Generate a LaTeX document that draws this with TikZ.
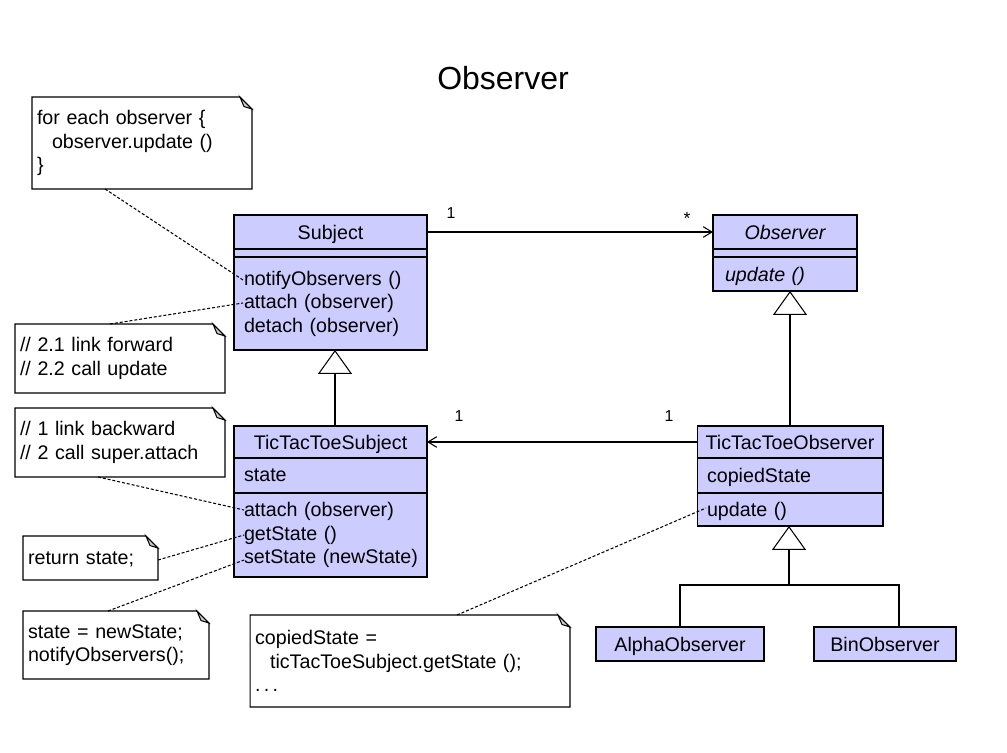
\documentclass[tikz,border=0pt]{standalone}
\usepackage{fontspec}
\setmainfont{Liberation Sans}
\usepackage{xcolor}
\usepackage{tikz}
\usetikzlibrary{positioning,arrows.meta}
\definecolor{umlfill}{HTML}{CCCCFF}
\definecolor{foldgray}{HTML}{D0D0D0}
\newcommand{\umlsize}{\fontsize{11.2}{13.4}\selectfont}
\newcommand{\notefold}[1]{%
  \draw (#1.south west) -- (#1.north west) -- ([xshift=-0.24cm]#1.north east)
    -- ([yshift=-0.24cm]#1.north east) -- (#1.south east) -- cycle;
  \draw[fill=foldgray] ([xshift=-0.24cm]#1.north east) -- ([xshift=-0.16cm,yshift=-0.19cm]#1.north east)
    -- ([yshift=-0.24cm]#1.north east) -- cycle;}

\begin{document}
\begin{tikzpicture}[
  x=0.02cm, y=-0.02cm,
  font=\umlsize, line width=0.6pt,
  cname/.style={draw, fill=umlfill, inner sep=0pt, outer sep=0pt},
  oneline/.style={text depth=0pt},
  cpart/.style={cname, align=left, inner xsep=0.2cm},
  note/.style={inner xsep=0.1cm, inner ysep=0pt, outer sep=0pt, align=left},
  assoc/.style={-{Straight Barb[length=5pt,width=6pt]}},
  gen/.style={-{Triangle[open,length=13.6pt,width=19.3pt]}},
  dline/.style={dash pattern=on 1.7pt off 1.1pt},
  mult/.style={anchor=base, font=\fontsize{9}{11}\selectfont},
]
\useasboundingbox (0,0) rectangle (1007,753);
\node[font=\fontsize{18.2}{22}\selectfont] (title) at (503,78) {Observer};
% ---------- Subject ----------
\node[cname, oneline, minimum width=3.86cm, minimum height=0.68cm] (subj) at (330.5,232) {Subject};
\node[cname, below=0pt of subj, minimum width=3.86cm, minimum height=0.16cm] (subjAttr) {};
\node[cpart, below=0pt of subjAttr, text width=3.46cm, minimum height=1.86cm] (subjMeth)
  {notifyObservers ()\\attach (observer)\\detach (observer)};
% ---------- Observer ----------
\node[cname, oneline, minimum width=2.88cm, minimum height=0.68cm, font=\umlsize\itshape] (obs) at (785,232) {Observer};
\node[cname, below=0pt of obs, minimum width=2.88cm, minimum height=0.16cm] (obsAttr) {};
\node[cpart, oneline, below=0pt of obsAttr, inner xsep=0.24cm, text width=2.40cm, minimum height=0.68cm,
  font=\umlsize\itshape] (obsMeth) {update ()};
% ---------- TicTacToeSubject ----------
\node[cname, oneline, minimum width=3.86cm, minimum height=0.64cm] (tsubj) at (330.5,442) {TicTacToeSubject};
\node[cpart, oneline, below=0pt of tsubj, text width=3.46cm, minimum height=0.7cm] (tsubjAttr) {state};
\node[cpart, below=0pt of tsubjAttr, text width=3.46cm, minimum height=1.68cm] (tsubjMeth)
  {attach (observer)\\getState ()\\\mbox{setState (newState)}};
% ---------- TicTacToeObserver ----------
\node[cname, oneline, minimum width=3.72cm, minimum height=0.64cm] (tobs) at (790,442) {TicTacToeObserver};
\node[cpart, oneline, below=0pt of tobs, text width=3.32cm, minimum height=0.7cm] (tobsAttr) {copiedState};
\node[cpart, oneline, below=0pt of tobsAttr, text width=3.32cm, minimum height=0.66cm] (tobsMeth) {update ()};
% ---------- concrete observers ----------
\node[cname, oneline, minimum width=3.36cm, minimum height=0.68cm] (alpha) at (680,644) {AlphaObserver};
\node[cname, oneline, minimum width=2.84cm, minimum height=0.68cm] (bin) at (885,644) {BinObserver};
% ---------- associations ----------
\draw[assoc] (subj.east) -- (obs.west);
\draw[assoc] (tobs.west) -- (tsubj.east);
\node[mult] (m1) at (451,218) {1};
\node[mult, font=\fontsize{10}{12}\selectfont] (m2) at (687,225) {*};
\node[mult] (m3) at (459,421) {1};
\node[mult] (m4) at (669,421) {1};
% ---------- generalizations ----------
\coordinate (fork) at (789,585);
\draw[gen] ([xshift=0.09cm]tsubj.north) -- ([xshift=0.09cm]subjMeth.south);
\draw[gen] (tobs.north) -- (tobs.north |- obsMeth.south);
\draw[gen] (fork) -- (fork |- tobsMeth.south);
\draw (alpha.north) |- (fork) -| ([xshift=0.28cm]bin.north);
% ---------- notes ----------
\node[note, text width=4.2cm, minimum height=1.84cm] (n1) at (142,143)
  {for each observer \{\\\hspace*{0.3cm}observer.update ()\\\}};
\notefold{n1}
\node[note, text width=4.0cm, minimum height=1.38cm] (n2) at (120,358.5)
  {// 2.1 link forward\\// 2.2 call update};
\notefold{n2}
\node[note, text width=4.0cm, minimum height=1.38cm] (n3) at (120,442.5)
  {// 1 link backward\\// 2 call super.attach};
\notefold{n3}
\node[note, oneline, text width=2.5cm, minimum height=0.88cm] (n4) at (90.5,558) {return state;};
\notefold{n4}
\node[note, text width=3.52cm, minimum height=1.36cm] (n5) at (116,645)
  {state = newState;\\notifyObservers();};
\notefold{n5}
\node[note, text width=6.2cm, minimum height=1.84cm] (n6) at (410,661)
  {copiedState =\\\hspace*{0.3cm}ticTacToeSubject.getState ();\\.\,.\,.};
\notefold{n6}
% ---------- note links ----------
\coordinate (pNotify) at (243,280);
\coordinate (pAttach) at (243,303);
\coordinate (pTAttach) at (244,510);
\coordinate (pGet) at (244,535);
\coordinate (pSet) at (244,560);
\coordinate (pUpdate) at (706,508);
\draw[dline] ([xshift=-0.74cm]n1.south) -- (pNotify);
\draw[dline] ([xshift=-0.2cm]n2.north) -- (pAttach);
\draw[dline] ([xshift=-0.44cm]n3.south) -- (pTAttach);
\draw[dline] ([yshift=-0.04cm]n4.east) -- (pGet);
\draw[dline] ([xshift=-0.16cm]n5.north) -- (pSet);
\draw[dline] ([xshift=0.94cm]n6.north) -- (pUpdate);
\end{tikzpicture}
\end{document}
